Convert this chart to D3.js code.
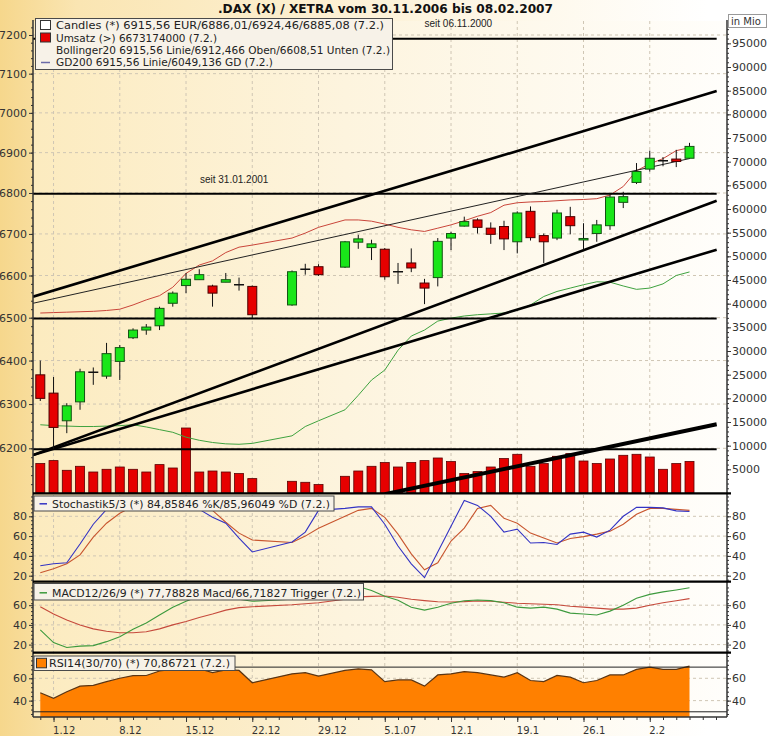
<!DOCTYPE html>
<html><head><meta charset="utf-8">
<script src="https://cdn.jsdelivr.net/npm/d3@7"></script>
<style>body{margin:0;background:#fff}svg{display:block}text{font-family:"DejaVu Sans",Verdana,sans-serif}</style>
</head><body><svg id="c" width="770" height="736"></svg>
<script>
// ---------------- DATA ----------------
const dates = ["2006-11-30","2006-12-01","2006-12-04","2006-12-05","2006-12-06","2006-12-07","2006-12-08","2006-12-11","2006-12-12","2006-12-13","2006-12-14","2006-12-15","2006-12-18","2006-12-19","2006-12-20","2006-12-21","2006-12-22","2006-12-27","2006-12-28","2006-12-29","2007-01-02","2007-01-03","2007-01-04","2007-01-05","2007-01-08","2007-01-09","2007-01-10","2007-01-11","2007-01-12","2007-01-15","2007-01-16","2007-01-17","2007-01-18","2007-01-19","2007-01-22","2007-01-23","2007-01-24","2007-01-25","2007-01-26","2007-01-29","2007-01-30","2007-01-31","2007-02-01","2007-02-02","2007-02-05","2007-02-06","2007-02-07"];
const open  = [6367,6325,6262,6305,6373,6364,6398,6453,6471,6481,6534,6576,6590,6575,6584,6578,6574,6530,6615,6621,6620,6680,6667,6663,6609,6630,6582,6595,6690,6719,6734,6714,6718,6681,6755,6696,6690,6742,6688,6701,6720,6777,6826,6859,6880,6884,6886.01];
const high  = [6400,6362,6302,6381,6384,6441,6436,6475,6485,6526,6562,6606,6615,6578,6606,6595,6576,6612,6628,6627,6683,6698,6686,6666,6630,6665,6592,6690,6705,6742,6738,6728,6732,6755,6767,6701,6759,6766,6726,6734,6799,6803,6874,6905,6889,6907,6924.46];
const low   = [6307,6198,6234,6287,6344,6358,6355,6450,6460,6471,6526,6558,6590,6526,6584,6564,6499,6528,6602,6599,6618,6664,6637,6590,6580,6608,6532,6574,6661,6718,6701,6676,6661,6653,6684,6630,6685,6699,6661,6681,6710,6763,6822,6853,6866,6864,6885.08];
const close = [6313,6247,6296,6374,6373,6416,6430,6471,6478,6522,6558,6591,6602,6558,6590,6578,6507,6609,6615,6602,6681,6688,6676,6597,6609,6618,6570,6682,6701,6730,6716,6699,6688,6751,6691,6681,6751,6720,6689,6722,6790,6791,6853,6886,6880,6878,6915.56];
const volume = [6212,6845,4796,5641,4437,5007,5493,5007,4437,6000,5282,13733,4437,4648,4437,4099,3042,2472,2261,1775,3528,4648,5641,6423,5493,6423,6845,7395,6634,4099,4521,5493,7268,8177,5641,6212,7754,8324,6761,6212,7184,7965,8177,7606,5007,6212,6673];
const bollUpper = [6511,6512,6513,6514,6515,6517,6520,6530,6542,6552,6572,6605,6625,6635,6655,6668,6673,6690,6702,6716,6734,6734,6731,6724,6716,6710,6706,6714,6722,6732,6743,6752,6770,6776,6778,6779,6781,6783,6784,6786,6795,6816,6855,6872,6885,6905,6912.47];
const bollLower = [6253,6251,6250,6249,6249,6250,6251,6253,6248,6242,6236,6225,6218,6213,6210,6209,6211,6228,6249,6262,6287,6320,6355,6378,6424,6457,6471,6492,6499,6504,6507,6509,6511,6518,6530,6550,6562,6570,6578,6585,6584,6575,6567,6570,6580,6600,6608.51];
const stochK = [30,32,33,52,72,87,93,95,94,96,95,93,87,79,73,58,44,54,64,86,88,89.5,89.5,72,50,32,18,44,70,96,91,80,64,67,53,53.5,51.5,62,64,59,66,80,89,89,88.5,85.5,84.86];
const stochD = [23,27,32,41,59,73,83,90,93,94,95,94,92,86,74,63,56,53.5,60,68,80,86,88,79,62,42,26,33,55,68,88,91,78,73,63,58,53,57.5,59.5,62,65,72,82,88,88,87,85.96];
const macd    = [35,22,17,18.5,19,23,28,35.5,42,50,58,64,69,71,69,66,64,66,69,72,76,79,75,69,65,58,55,58,62,64.5,65.3,64.6,62.5,58,57,58,56,52,51,50,54,60,67,71,73.5,75.5,77.79];
const trigger = [58.5,51,45,40,36,33.5,32,32,33,36,40,43.5,47.5,51,55,57.5,58.5,60.5,61.5,62.5,66,68.5,69,69.3,68,66,64.6,63.5,63.3,63.6,64.3,64,63,62,61.5,61,60.5,59,58,57,56,56,57,60,62.5,64.5,66.72];
const rsi = [47,42,48,53,53.7,57,60,62.3,62.5,66.5,68,68.5,68.5,65,67.5,67,56,64,65,62,67,68.5,67.5,57,58.5,58.5,53,63,64,66,65,63,61,65,58,57,62.5,61,56,58,63,63,68,70,68,68,70.87];

const tickDates  = ["2006-12-01","2006-12-08","2006-12-15","2006-12-22","2006-12-29","2007-01-05","2007-01-12","2007-01-19","2007-01-26","2007-02-02"];
const tickLabels = ["1.12","8.12","15.12","22.12","29.12","5.1.07","12.1","19.1","26.1","2.2"];
const priceTicks = [6200,6300,6400,6500,6600,6700,6800,6900,7000,7100,7200];
const volTicks = [5000,10000,15000,20000,25000,30000,35000,40000,45000,50000,55000,60000,65000,70000,75000,80000,85000,90000,95000];
const stochTicks = [20,40,60,80];
const macdTicks = [20,40,60];
const rsiTicks = [40,60];
const rsiBands = [30,70];
// support / resistance levels (price)
const hLevels = [7190, 6798, 6498, 6198];
const hLevelNotes = [{text:"seit 06.11.2000", slot:29.0, price:7221}, {text:"seit 31.01.2001", slot:12.05, price:6825}];
// trend lines: [weekday index, price]
const trendFrom = [[-0.55,6549.6],[-0.55,6534.0],[-0.55,6184.8],[-0.55,6184.8]];
const trendTo   = [[51.05,7055.6],[49.03,6885.4],[51.05,6781.1],[51.05,6661.9]];
// volume trend line: [weekday index, volume]
const volTrend = [[26.0,-230],[51.05,14515]];

// ---------------- HELPERS ----------------
const start = Date.UTC(2006,10,30);
function wd(s){ const t1 = Date.parse(s+"T00:00:00Z"); let n=0; for(let t=start;t<t1;t+=864e5){const d=new Date(t).getUTCDay(); if(d!==0&&d!==6) n++;} return n; }

const L=33, R=727, TOP=21, MB=493.3, SB=581.7, MCB=652.7, RB=717;
const x  = d3.scaleLinear().domain([-0.55, 51.83]).range([L, R]);
const yP = d3.scaleLog().domain([6100.5, 7236.6]).range([493, 21]);
const yV = d3.scaleLinear().domain([0, 99720]).range([493, 21]);
const yS = d3.scaleLinear().domain([13.94, 103.23]).range([SB, MB]);
const yM = d3.scaleLinear().domain([11.78, 83.86]).range([MCB, SB]);
const yR = d3.scaleLinear().domain([25.34, 82.9]).range([RB, MCB]);

const data = dates.map((d,i)=>({s:wd(d),o:open[i],h:high[i],l:low[i],c:close[i],v:volume[i],bu:bollUpper[i],bl:bollLower[i],k:stochK[i],d:stochD[i],m:macd[i],t:trigger[i],r:rsi[i]}));

const svg = d3.select("#c");
const defs = svg.append("defs");
function grad(id, stops){ const g=defs.append("linearGradient").attr("id",id).attr("x1",0).attr("x2",1).attr("y1",0).attr("y2",0); stops.forEach(([o,c])=>g.append("stop").attr("offset",o).attr("stop-color",c)); }
grad("bg", [[0,"#f6d78c"],[0.1,"#fae5b2"],[0.5,"#fdf3da"],[0.92,"#ffffff"],[1,"#ffffff"]]);
grad("pg", [[0,"#fcebbf"],[0.45,"#fdf4de"],[1,"#fffefb"]]);
function clip(id,y0,y1){ defs.append("clipPath").attr("id",id).append("rect").attr("x",L).attr("y",y0).attr("width",R-L).attr("height",y1-y0); }
clip("cMain",TOP,MB); clip("cSto",MB,SB); clip("cMac",SB,MCB); clip("cRsi",MCB,RB);

svg.append("rect").attr("width",770).attr("height",736).attr("fill","url(#bg)");
svg.append("rect").attr("x",L).attr("y",TOP).attr("width",R-L).attr("height",RB-TOP).attr("fill","url(#pg)");

// ---------------- GRID ----------------
const majorSlots = tickDates.map(wd);
const grid = svg.append("g").attr("stroke","#cfc6b4").attr("stroke-width",1).attr("stroke-dasharray","3,3");
majorSlots.forEach(s=>grid.append("line").attr("x1",x(s)).attr("x2",x(s)).attr("y1",TOP).attr("y2",RB));
priceTicks.forEach(p=>grid.append("line").attr("x1",L).attr("x2",R).attr("y1",yP(p)).attr("y2",yP(p)));
stochTicks.forEach(v=>grid.append("line").attr("x1",L).attr("x2",R).attr("y1",yS(v)).attr("y2",yS(v)));
macdTicks.forEach(v=>grid.append("line").attr("x1",L).attr("x2",R).attr("y1",yM(v)).attr("y2",yM(v)));
rsiTicks.forEach(v=>grid.append("line").attr("x1",L).attr("x2",R).attr("y1",yR(v)).attr("y2",yR(v)));

// ---------------- MAIN PANEL ----------------
const gm = svg.append("g").attr("clip-path","url(#cMain)");
gm.selectAll(".vb").data(data).enter().append("rect")
  .attr("x",d=>x(d.s)-4.5).attr("width",9)
  .attr("y",d=>yV(d.v)).attr("height",d=>yV(0)-yV(d.v))
  .attr("fill","#e60000").attr("stroke","#5a0000").attr("stroke-width",0.8);
gm.append("path").datum(data).attr("fill","none").attr("stroke","#c9453a").attr("stroke-width",1)
  .attr("d",d3.line().x(d=>x(d.s)).y(d=>yP(d.bu)));
gm.append("path").datum(data).attr("fill","none").attr("stroke","#3fa23f").attr("stroke-width",1)
  .attr("d",d3.line().x(d=>x(d.s)).y(d=>yP(d.bl)));
hLevels.forEach(p=>gm.append("line").attr("x1",L).attr("x2",x(51.05)).attr("y1",yP(p)).attr("y2",yP(p)).attr("stroke","#000").attr("stroke-width",2));
const tw = [2.6,1,2.6,2.6];
trendFrom.forEach((f,i)=>{ const t=trendTo[i];
  gm.append("line").attr("x1",x(f[0])).attr("y1",yP(f[1])).attr("x2",x(t[0])).attr("y2",yP(t[1]))
    .attr("stroke",i===1?"#222":"#000").attr("stroke-width",tw[i]);});
gm.append("line").attr("x1",x(volTrend[0][0])).attr("y1",yV(volTrend[0][1])).attr("x2",x(volTrend[1][0])).attr("y2",yV(volTrend[1][1]))
  .attr("stroke","#000").attr("stroke-width",4);
hLevelNotes.forEach(n=>svg.append("text").attr("x",x(n.slot)).attr("y",yP(n.price)).text(n.text)
  .style("font-family","'Liberation Sans', Arial, sans-serif").attr("font-size",10).attr("fill","#222"));
gm.selectAll(".wk").data(data).enter().append("line")
  .attr("x1",d=>x(d.s)).attr("x2",d=>x(d.s)).attr("y1",d=>yP(d.h)).attr("y2",d=>yP(d.l))
  .attr("stroke","#111").attr("stroke-width",1);
data.forEach(d=>{
  if (Math.abs(d.o-d.c)<0.5){
    gm.append("line").attr("x1",x(d.s)-5).attr("x2",x(d.s)+5).attr("y1",yP(d.c)).attr("y2",yP(d.c)).attr("stroke","#111").attr("stroke-width",1.5);
  } else {
    const up = d.c>d.o, top=yP(Math.max(d.o,d.c)), bot=yP(Math.min(d.o,d.c));
    gm.append("rect").attr("x",x(d.s)-4.5).attr("width",9).attr("y",top).attr("height",Math.max(1.5,bot-top))
      .attr("fill",up?"#19e619":"#e60000").attr("stroke",up?"#145214":"#4a0000").attr("stroke-width",1);
  }
});

// ---------------- STOCHASTIC ----------------
const gs = svg.append("g").attr("clip-path","url(#cSto)");
gs.append("path").datum(data).attr("fill","none").attr("stroke","#c8552e").attr("stroke-width",1.1).attr("d",d3.line().x(d=>x(d.s)).y(d=>yS(d.d)));
gs.append("path").datum(data).attr("fill","none").attr("stroke","#3333c4").attr("stroke-width",1.1).attr("d",d3.line().x(d=>x(d.s)).y(d=>yS(d.k)));

// ---------------- MACD ----------------
const gc = svg.append("g").attr("clip-path","url(#cMac)");
gc.append("path").datum(data).attr("fill","none").attr("stroke","#c64a3c").attr("stroke-width",1.1).attr("d",d3.line().x(d=>x(d.s)).y(d=>yM(d.t)));
gc.append("path").datum(data).attr("fill","none").attr("stroke","#3d9a3d").attr("stroke-width",1.1).attr("d",d3.line().x(d=>x(d.s)).y(d=>yM(d.m)));

// ---------------- RSI ----------------
const gr = svg.append("g").attr("clip-path","url(#cRsi)");
gr.append("path").datum(data).attr("fill","#ff8000").attr("stroke","none")
  .attr("d",d3.area().x(d=>x(d.s)).y0(RB).y1(d=>yR(d.r)));
gr.append("path").datum(data).attr("fill","none").attr("stroke","#5a3514").attr("stroke-width",1.2)
  .attr("d",d3.line().x(d=>x(d.s)).y(d=>yR(d.r)));
rsiBands.forEach(v=>gr.append("line").attr("x1",L).attr("x2",R).attr("y1",yR(v)).attr("y2",yR(v)).attr("stroke","#222").attr("stroke-width",1));

// ---------------- AXES ----------------
function styleAxis(g, fs){
  g.select(".domain").remove();
  g.selectAll(".tick line").attr("stroke","#333");
  g.selectAll("text").attr("fill","#333").attr("font-size",fs||11).style("font-family","'DejaVu Sans', Verdana, sans-serif");
}
function leftAxis(scale, ticks, minor){
  const g1 = svg.append("g").attr("transform",`translate(${L},0)`).call(d3.axisLeft(scale).tickValues(ticks).tickSize(4).tickPadding(2).tickFormat(d3.format("d")));
  styleAxis(g1);
  const g2 = svg.append("g").attr("transform",`translate(${L},0)`).call(d3.axisLeft(scale).tickValues(minor).tickSize(2).tickFormat(""));
  styleAxis(g2);
}
function rightAxis(scale, ticks, minor){
  const g1 = svg.append("g").attr("transform",`translate(${R},0)`).call(d3.axisRight(scale).tickValues(ticks).tickSize(4).tickPadding(1).tickFormat(d3.format("d")));
  styleAxis(g1);
  const g2 = svg.append("g").attr("transform",`translate(${R},0)`).call(d3.axisRight(scale).tickValues(minor).tickSize(2).tickFormat(""));
  styleAxis(g2);
}
leftAxis(yP, priceTicks, d3.range(6120, 7240, 20));
rightAxis(yV, volTicks, d3.range(1000, 99000, 1000));
[[yS,stochTicks,d3.range(16,102,4)],[yM,macdTicks,d3.range(14,82,4)],[yR,rsiTicks,d3.range(28,82,4)]].forEach(([s,t,m])=>{leftAxis(s,t,m); rightAxis(s,t,m);});

const gx1 = svg.append("g").attr("transform",`translate(0,${RB})`).call(d3.axisBottom(x).tickValues(majorSlots).tickSize(5).tickFormat((d,i)=>tickLabels[i]));
styleAxis(gx1, 10);
gx1.selectAll("text").attr("text-anchor","start").attr("dx",-1).attr("dy","0.85em");
const gx2 = svg.append("g").attr("transform",`translate(0,${RB})`).call(d3.axisBottom(x).tickValues(d3.range(0,52)).tickSize(3).tickFormat(""));
styleAxis(gx2);

svg.append("line").attr("x1",L).attr("x2",L).attr("y1",TOP-1).attr("y2",RB).attr("stroke","#333").attr("stroke-width",1.5);
svg.append("line").attr("x1",R).attr("x2",R).attr("y1",TOP-1).attr("y2",RB).attr("stroke","#333").attr("stroke-width",1.5);
svg.append("line").attr("x1",L).attr("x2",R).attr("y1",RB).attr("y2",RB).attr("stroke","#333").attr("stroke-width",1.5);
[MB,SB,MCB].forEach(y=>svg.append("line").attr("x1",L).attr("x2",R+4).attr("y1",y).attr("y2",y).attr("stroke","#000").attr("stroke-width",2.2));

// ---------------- TITLE / LEGENDS ----------------
svg.append("text").attr("x",218).attr("y",13).attr("font-size",12).attr("font-weight","bold").attr("fill","#111")
  .attr("textLength",335).attr("lengthAdjust","spacingAndGlyphs").text(".DAX (X) / XETRA vom 30.11.2006 bis 08.02.2007");
svg.append("rect").attr("x",728.5).attr("y",14.5).attr("width",38).attr("height",13).attr("fill","#fff").attr("stroke","#999");
svg.append("text").attr("x",731).attr("y",25).attr("font-size",10).attr("fill","#333").text("in Mio");

function legendBox(x0,y0,w,h){ svg.append("rect").attr("x",x0).attr("y",y0).attr("width",w).attr("height",h).attr("fill","#f7f2e8").attr("stroke","#4a4a4a").attr("stroke-width",1); }
function legendText(x0,y,txt,len){ svg.append("text").attr("x",x0).attr("y",y).attr("font-size",11).attr("fill","#222").attr("textLength",len).attr("lengthAdjust","spacingAndGlyphs").text(txt); }
legendBox(35.5,18.5,357,51);
svg.append("rect").attr("x",40.5).attr("y",20.5).attr("width",10).attr("height",9).attr("fill","#fff").attr("stroke","#333");
svg.append("rect").attr("x",40.5).attr("y",33).attr("width",10).attr("height",9).attr("fill","#e60000").attr("stroke","#333");
svg.append("line").attr("x1",41).attr("x2",50).attr("y1",62.5).attr("y2",62.5).attr("stroke","#6a6aa8").attr("stroke-width",1.5);
legendText(56,29,"Candles (*) 6915,56 EUR/6886,01/6924,46/6885,08 (7.2.)",328);
legendText(56,41.5,"Umsatz (>) 6673174000 (7.2.)",161);
legendText(56,54,"Bollinger20 6915,56 Linie/6912,466 Oben/6608,51 Unten (7.2.)",334);
legendText(56,66.3,"GD200 6915,56 Linie/6049,136 GD (7.2.)",217);

legendBox(34,496,300,15);
svg.append("line").attr("x1",39.5).attr("x2",47).attr("y1",503.8).attr("y2",503.8).attr("stroke","#3333c4").attr("stroke-width",1.5);
legendText(52,507.8,"Stochastik5/3 (*) 84,85846 %K/85,96049 %D (7.2.)",278);

legendBox(34,583.5,329.5,16.5);
svg.append("line").attr("x1",39.5).attr("x2",47).attr("y1",592.8).attr("y2",592.8).attr("stroke","#3d9a3d").attr("stroke-width",1.5);
legendText(52,597,"MACD12/26/9 (*) 77,78828 Macd/66,71827 Trigger (7.2.)",309);

legendBox(34,656,201,14.5);
svg.append("rect").attr("x",36.5).attr("y",658.3).attr("width",10).attr("height",9.5).attr("fill","#ff8000").attr("stroke","#333");
legendText(49,667.3,"RSI14(30/70) (*) 70,86721 (7.2.)",181);
</script></body></html>
